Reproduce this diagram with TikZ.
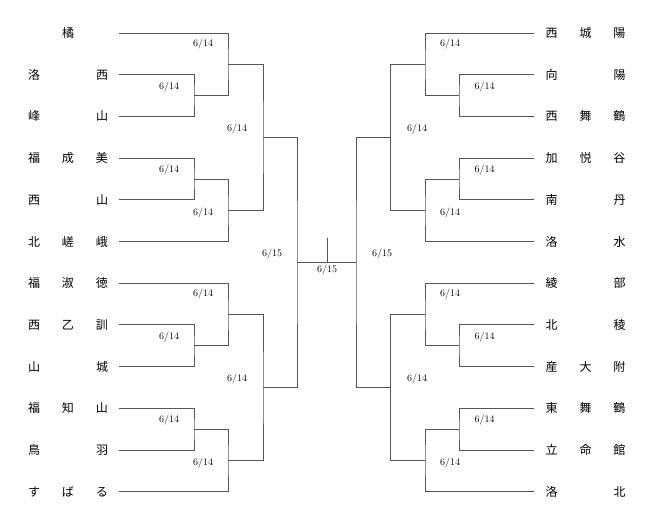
\documentclass[tikz,border=0pt]{standalone}
\usepackage{fontspec}
\newfontfamily\jpfont{Noto Sans CJK JP}
\usetikzlibrary{positioning}
\definecolor{linegray}{RGB}{85,85,85}
\newcommand{\team}[3]{\makebox[34pt]{#1}\makebox[34pt]{#2}\makebox[34pt]{#3}}

\begin{document}
\begin{tikzpicture}[x=1pt,y=-1pt,inner sep=0pt]
\tikzstyle{school}=[font=\jpfont\fontsize{12}{12}\selectfont]
\tikzstyle{date}=[font=\fontsize{10}{10}\selectfont]
\tikzstyle{line}=[draw=linegray, line width=0.8pt]
\useasboundingbox (0,0) rectangle (654,526);
% left block
\node[school] (l1) at (68,33) {\team{}{橘}{}};
\node[school] (l2) at (68,74.7) {\team{洛}{}{西}};
\node[school] (l3) at (68,116.4) {\team{峰}{}{山}};
\node[school] (l4) at (68,158.1) {\team{福}{成}{美}};
\node[school] (l5) at (68,199.8) {\team{西}{}{山}};
\node[school] (l6) at (68,241.5) {\team{北}{嵯}{峨}};
\node[school] (l7) at (68,283.2) {\team{福}{淑}{徳}};
\node[school] (l8) at (68,324.9) {\team{西}{乙}{訓}};
\node[school] (l9) at (68,366.6) {\team{山}{}{城}};
\node[school] (l10) at (68,408.3) {\team{福}{知}{山}};
\node[school] (l11) at (68,450) {\team{鳥}{}{羽}};
\node[school] (l12) at (68,491.7) {\team{す}{ば}{る}};
% right block
\node[school] (r1) at (585.5,33) {\team{西}{城}{陽}};
\node[school] (r2) at (585.5,74.7) {\team{向}{}{陽}};
\node[school] (r3) at (585.5,116.4) {\team{西}{舞}{鶴}};
\node[school] (r4) at (585.5,158.1) {\team{加}{悦}{谷}};
\node[school] (r5) at (585.5,199.8) {\team{南}{}{丹}};
\node[school] (r6) at (585.5,241.5) {\team{洛}{}{水}};
\node[school] (r7) at (585.5,283.2) {\team{綾}{}{部}};
\node[school] (r8) at (585.5,324.9) {\team{北}{}{稜}};
\node[school] (r9) at (585.5,366.6) {\team{産}{大}{附}};
\node[school] (r10) at (585.5,408.3) {\team{東}{舞}{鶴}};
\node[school] (r11) at (585.5,450) {\team{立}{命}{館}};
\node[school] (r12) at (585.5,491.7) {\team{洛}{}{北}};
% match joints
\coordinate (m1) at (194,95.55);
\coordinate (m2) at (228,64.28);
\coordinate (m3) at (194,178.95);
\coordinate (m4) at (228,210.23);
\coordinate (m5) at (263,137.25);
\coordinate (m6) at (194,345.75);
\coordinate (m7) at (228,314.48);
\coordinate (m8) at (194,429.15);
\coordinate (m9) at (228,460.43);
\coordinate (m10) at (263,387.45);
\coordinate (lf) at (297,262.35);
\coordinate (n1) at (459,95.55);
\coordinate (n2) at (425,64.28);
\coordinate (n3) at (459,178.95);
\coordinate (n4) at (425,210.23);
\coordinate (n5) at (390.5,137.25);
\coordinate (n6) at (459,345.75);
\coordinate (n7) at (425,314.48);
\coordinate (n8) at (459,429.15);
\coordinate (n9) at (425,460.43);
\coordinate (n10) at (390.5,387.45);
\coordinate (rf) at (356,262.35);
\coordinate (stem) at (327,238);
% left bracket
\draw[line] (l2.east) -| (m1) |- (l3.east);
\draw[line] (l1.east) -| (m2) |- (m1);
\draw[line] (l4.east) -| (m3) |- (l5.east);
\draw[line] (m3) -| (m4) |- (l6.east);
\draw[line] (m2) -| (m5) |- (m4);
\draw[line] (l8.east) -| (m6) |- (l9.east);
\draw[line] (l7.east) -| (m7) |- (m6);
\draw[line] (l10.east) -| (m8) |- (l11.east);
\draw[line] (m8) -| (m9) |- (l12.east);
\draw[line] (m7) -| (m10) |- (m9);
\draw[line] (m5) -| (lf) |- (m10);
% right bracket
\draw[line] (r2.west) -| (n1) |- (r3.west);
\draw[line] (r1.west) -| (n2) |- (n1);
\draw[line] (r4.west) -| (n3) |- (r5.west);
\draw[line] (n3) -| (n4) |- (r6.west);
\draw[line] (n2) -| (n5) |- (n4);
\draw[line] (r8.west) -| (n6) |- (r9.west);
\draw[line] (r7.west) -| (n7) |- (n6);
\draw[line] (r10.west) -| (n8) |- (r11.west);
\draw[line] (n8) -| (n9) |- (r12.west);
\draw[line] (n7) -| (n10) |- (n9);
\draw[line] (n5) -| (rf) |- (n10);
% final
\draw[line] (lf) -- (rf);
\draw[line] (stem) -- (stem |- lf);
% dates
\node[date] (d1) at (203,44) {6/14};
\node[date] (d2) at (169,87.5) {6/14};
\node[date] (d3) at (169,170.5) {6/14};
\node[date] (d4) at (203,213) {6/14};
\node[date] (d5) at (237,129) {6/14};
\node[date] (d6) at (203,294) {6/14};
\node[date] (d7) at (169,337.5) {6/14};
\node[date] (d8) at (169,420) {6/14};
\node[date] (d9) at (203,463) {6/14};
\node[date] (d10) at (237,379) {6/14};
\node[date] (d11) at (272,254) {6/15};
\node[date] (e1) at (450,44) {6/14};
\node[date] (e2) at (484.5,87.5) {6/14};
\node[date] (e3) at (484.5,170.5) {6/14};
\node[date] (e4) at (450,213) {6/14};
\node[date] (e5) at (417,129) {6/14};
\node[date] (e6) at (450,294) {6/14};
\node[date] (e7) at (484.5,337.5) {6/14};
\node[date] (e8) at (484.5,420) {6/14};
\node[date] (e9) at (450,463) {6/14};
\node[date] (e10) at (417,379) {6/14};
\node[date] (e11) at (382,254) {6/15};
\node[date] (c) at (327,270) {6/15};
\end{tikzpicture}
\end{document}
